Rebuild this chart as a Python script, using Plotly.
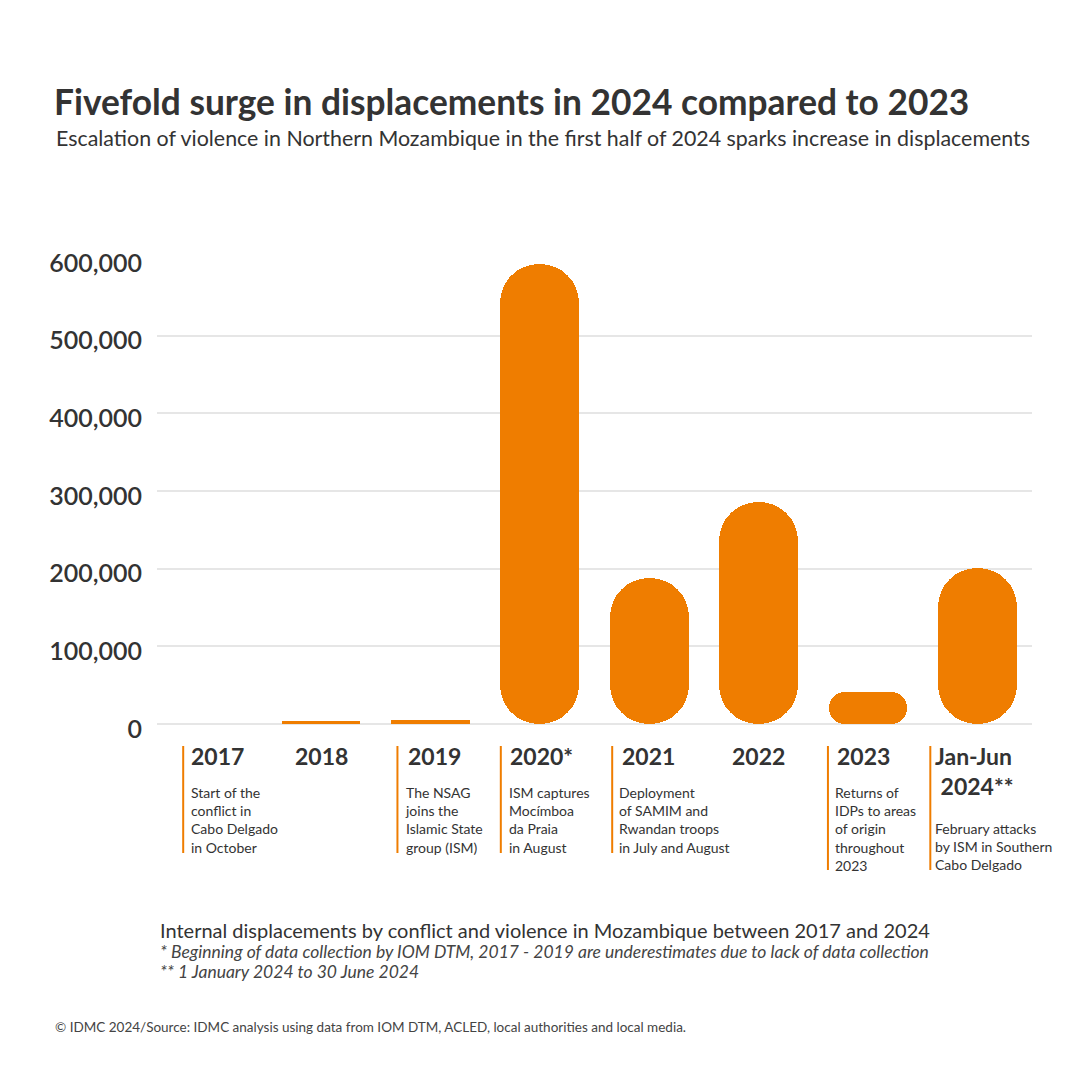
import plotly.graph_objects as go

# ---------------- data ----------------
categories = ["2017", "2018", "2019", "2020", "2021", "2022", "2023", "2024"]
year_labels = ["2017", "2018", "2019", "2020*", "2021", "2022", "2023", "Jan-Jun<br> 2024**"]
values = [0, 3800, 5500, 592000, 187500, 286000, 41500, 201000]
descriptions = [
    "Start of the<br>conflict in<br>Cabo Delgado<br>in October",
    "",
    "The NSAG<br>joins the<br>Islamic State<br>group (ISM)",
    "ISM captures<br>Mocímboa<br>da Praia<br>in August",
    "Deployment<br>of SAMIM and<br>Rwandan troops<br>in July and August",
    "",
    "Returns of<br>IDPs to areas<br>of origin<br>throughout<br>2023",
    "February attacks<br>by ISM in Southern<br>Cabo Delgado",
]
y_ticks = [0, 100000, 200000, 300000, 400000, 500000, 600000]

title = "Fivefold surge in displacements in 2024 compared to 2023"
subtitle = "Escalation of violence in Northern Mozambique in the first half of 2024 sparks increase in displacements"
caption = "Internal displacements by conflict and violence in Mozambique between 2017 and 2024"
note1 = "* Beginning of data collection by IOM DTM, 2017 - 2019 are underestimates due to lack of data collection"
note2 = "** 1 January 2024 to 30 June 2024"
source = "© IDMC 2024/Source: IDMC analysis using data from IOM DTM, ACLED, local authorities and local media."

# ---------------- style / layout ----------------
ORANGE = "#EF7D00"
DARK = "#333333"
GRID = "#E6E6E6"
FONT = "Lato"
W, H = 1080, 1080
PL, PR, PT, PB = 157, 1032, 258, 724   # plot area in px
YMAX = 600000
BARW = 0.72
cat_px = (PR - PL) / len(categories)
bar_px = BARW * cat_px


def px2x(px):
    return (px - PL) / (PR - PL)


def px2y(py):
    return (PB - py) / (PB - PT)


fig = go.Figure()

for i, (c, v) in enumerate(zip(categories, values)):
    if v <= 0:
        continue
    h_px = v * (PB - PT) / YMAX
    r = 0 if h_px < 12 else min(bar_px / 2, h_px / 2)
    fig.add_trace(go.Bar(x=[c], y=[v], base=[0], width=BARW,
                         marker=dict(color=ORANGE, cornerradius=r, line=dict(width=0)),
                         showlegend=False, hovertemplate="%{x}: %{y:,}<extra></extra>"))

annotations = []
shapes = []

# title / subtitle
annotations.append(dict(text=f"<b>{title}</b>", x=px2x(52), y=px2y(102), xref="paper", yref="paper",
                        xanchor="left", yanchor="middle", showarrow=False,
                        font=dict(family=FONT, size=35.3, color=DARK)))
annotations.append(dict(text=subtitle, x=px2x(54), y=px2y(138), xref="paper", yref="paper",
                        xanchor="left", yanchor="middle", showarrow=False,
                        font=dict(family=FONT, size=21.4, color=DARK)))

# category annotations below the axis
# (line offset, year offset, desc offset, centered?, line bottom px)
label_cfg = [
    (-28.5, -23, -23, False, 853),
    (None, 0, 0, True, None),
    (-33, -24, -27, False, 853),
    (-39, -32, -33, False, 853),
    (-37, -29, -32, False, 853),
    (None, 0, 0, True, None),
    (-40, -33, -35, False, 870),
    (-47, -44, -44, False, 870),
]
for i, (c, yl, desc) in enumerate(zip(categories, year_labels, descriptions)):
    lo, yo, do, centered, lb = label_cfg[i]
    if lo is not None:
        lx = i + lo / cat_px
        shapes.append(dict(type="line", xref="x", yref="paper", x0=lx, x1=lx,
                           y0=px2y(746), y1=px2y(lb), line=dict(color=ORANGE, width=2)))
    annotations.append(dict(text=f"<b>{yl}</b>", x=i, xshift=yo, y=px2y(740), xref="x", yref="paper",
                            xanchor="center" if centered else "left", yanchor="top", align="left",
                            showarrow=False, font=dict(family=FONT, size=23, color=DARK)))
    if desc:
        top = 818 if i == 7 else 782
        annotations.append(dict(text=desc, x=i, xshift=do, y=px2y(top), xref="x", yref="paper",
                                xanchor="left", yanchor="top", align="left", showarrow=False,
                                font=dict(family=FONT, size=14, color=DARK)))

# caption, notes, source
annotations.append(dict(text=caption, x=px2x(158), y=px2y(930), xref="paper", yref="paper",
                        xanchor="left", yanchor="middle", showarrow=False,
                        font=dict(family=FONT, size=20, color=DARK)))
annotations.append(dict(text=f"<i>{note1}</i>", x=px2x(158), y=px2y(951), xref="paper", yref="paper",
                        xanchor="left", yanchor="middle", showarrow=False,
                        font=dict(family=FONT, size=17.5, color="#444444")))
annotations.append(dict(text=f"<i>{note2}</i>", x=px2x(158), y=px2y(971), xref="paper", yref="paper",
                        xanchor="left", yanchor="middle", showarrow=False,
                        font=dict(family=FONT, size=17.5, color="#444444")))
annotations.append(dict(text=source, x=px2x(53), y=px2y(1027), xref="paper", yref="paper",
                        xanchor="left", yanchor="middle", showarrow=False,
                        font=dict(family=FONT, size=13.5, color="#444444")))

fig.update_layout(
    width=W, height=H,
    margin=dict(l=PL, r=W - PR, t=PT, b=H - PB, pad=0),
    paper_bgcolor="white", plot_bgcolor="white",
    barmode="overlay", bargap=0,
    showlegend=False,
    annotations=annotations, shapes=shapes,
    xaxis=dict(type="category", categoryorder="array", categoryarray=categories,
               range=[-0.5, len(categories) - 0.5], showticklabels=False, showgrid=False,
               zeroline=False, showline=False, ticks="", fixedrange=True),
    yaxis=dict(range=[0, YMAX], tickvals=y_ticks, tickformat=",", showgrid=True,
               gridcolor=GRID, gridwidth=2, zeroline=True, zerolinecolor=GRID, zerolinewidth=2,
               showline=False, ticks="", ticklabelstandoff=14, ticklabelshift=5,
               tickfont=dict(family=FONT, size=25, color=DARK, weight=600), fixedrange=True),
    font=dict(family=FONT, color=DARK),
)

fig.write_html("out.html", config={"displayModeBar": False},
               post_script="document.body.style.margin='0px';")
